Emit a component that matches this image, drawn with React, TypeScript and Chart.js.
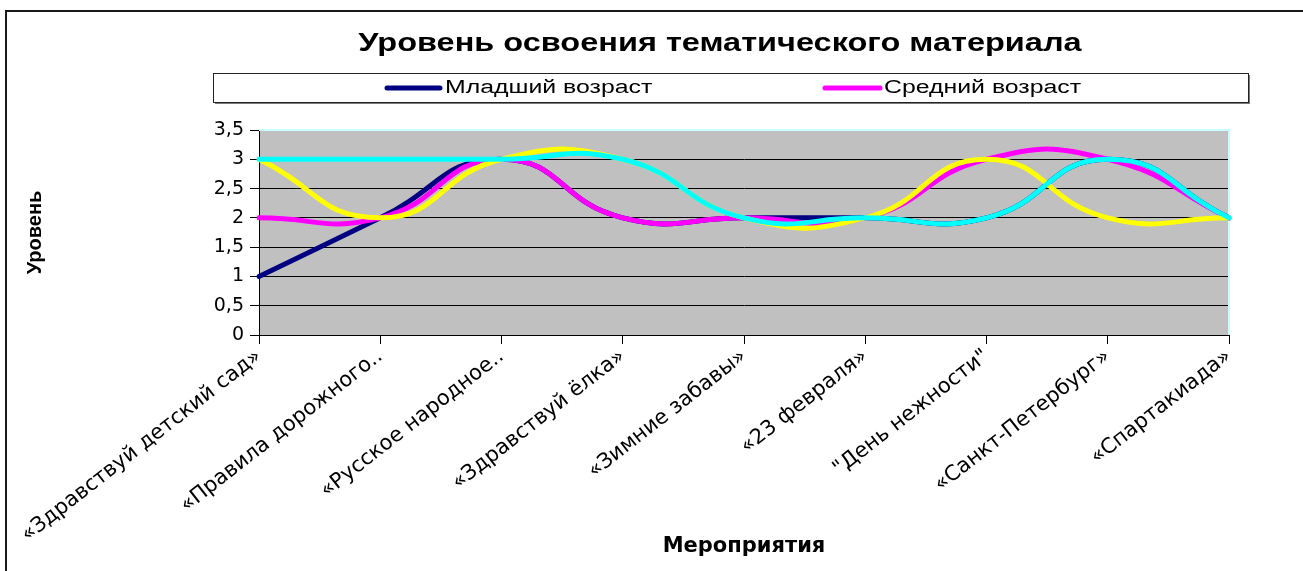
import { useEffect, useRef } from 'react';
import { Chart, registerables } from 'chart.js';

Chart.register(...registerables);

const chartTitle = 'Уровень освоения тематического материала';
const xTitle = 'Мероприятия';
const yTitle = 'Уровень';

const categories = [
  '«Здравствуй детский сад»',
  '«Правила дорожного..',
  '«Русское народное..',
  '«Здравствуй ёлка»',
  '«Зимние забавы»',
  '«23 февраля»',
  '"День нежности"',
  '«Санкт-Петербург»',
  '«Спартакиада»',
];

const seriesNames = ['Младший возраст', 'Средний возраст', 'Ряд 3', 'Ряд 4'];
const juniorValues = [1, 2, 3, 2, 2, 2, 2, 3, 2];
const middleValues = [2, 2, 3, 2, 2, 2, 3, 3, 2];
const series3Values = [3, 2, 3, 3, 2, 2, 3, 2, 2];
const series4Values = [3, 3, 3, 3, 2, 2, 2, 3, 2];
const seriesColors = ['#000080', '#FF00FF', '#FFFF00', '#00FFFF'];
const legendCount = 2;

const yMin = 0;
const yMax = 3.5;
const yStep = 0.5;

function stretchedText(
  ctx: CanvasRenderingContext2D,
  text: string,
  x: number,
  y: number,
  font: string,
  sx: number,
  align: CanvasTextAlign
) {
  ctx.save();
  ctx.font = font;
  ctx.textAlign = align;
  ctx.textBaseline = 'middle';
  ctx.fillStyle = '#000';
  ctx.translate(x, y);
  ctx.scale(sx, 1);
  ctx.fillText(text, 0, 0);
  ctx.restore();
}

const decorPlugin = {
  id: 'decor',
  beforeDraw(chart: any) {
    const { ctx, chartArea: a, width, height } = chart;
    ctx.save();
    ctx.fillStyle = '#ffffff';
    ctx.fillRect(0, 0, width, height);

    // outer frame (top and left edges)
    ctx.strokeStyle = '#1a1a1a';
    ctx.lineWidth = 2;
    ctx.beginPath();
    ctx.moveTo(6, height);
    ctx.lineTo(6, 11);
    ctx.lineTo(width, 11);
    ctx.stroke();

    // title
    stretchedText(ctx, chartTitle, 720, 44, 'bold 25px "Liberation Sans", Arial, sans-serif', 1.3, 'center');

    // legend box with shadow
    const lx = 213, ly = 73, lw = 1035, lh = 29;
    ctx.fillStyle = '#7a7a7a';
    ctx.fillRect(lx + 2, ly + 2, lw, lh);
    ctx.fillStyle = '#ffffff';
    ctx.fillRect(lx, ly, lw, lh);
    ctx.strokeStyle = '#222';
    ctx.lineWidth = 1;
    ctx.strokeRect(lx + 0.5, ly + 0.5, lw, lh);

    const items = [
      { x1: 387, x2: 440, tx: 445 },
      { x1: 825, x2: 880, tx: 884 },
    ];
    const ds = chart.data.datasets;
    for (let i = 0; i < legendCount; i++) {
      const it = items[i];
      ctx.strokeStyle = ds[i].borderColor;
      ctx.lineWidth = 5;
      ctx.lineCap = 'round';
      ctx.beginPath();
      ctx.moveTo(it.x1, 88);
      ctx.lineTo(it.x2, 88);
      ctx.stroke();
      stretchedText(ctx, ds[i].label, it.tx, 88, '18px "Liberation Sans", Arial, sans-serif', 1.38, 'left');
    }

    // plot area background
    ctx.fillStyle = '#C0C0C0';
    ctx.fillRect(a.left, a.top, a.right - a.left, a.bottom - a.top);
    ctx.restore();
  },
  beforeDatasetsDraw(chart: any) {
    const { ctx, chartArea: a } = chart;
    ctx.save();
    ctx.strokeStyle = '#C8FFFF';
    ctx.lineWidth = 2;
    ctx.beginPath();
    ctx.moveTo(a.left, a.top);
    ctx.lineTo(a.right, a.top);
    ctx.lineTo(a.right, a.bottom);
    ctx.stroke();
    ctx.restore();
  },
};

export default function App() {
  const canvasRef = useRef<HTMLCanvasElement | null>(null);

  useEffect(() => {
    const canvas = canvasRef.current;
    if (!canvas) return;
    const values = [juniorValues, middleValues, series3Values, series4Values];
    const chart = new Chart(canvas, {
      type: 'line',
      data: {
        labels: categories,
        datasets: values.map((v, i) => ({
          label: seriesNames[i],
          data: v,
          borderColor: seriesColors[i],
          backgroundColor: seriesColors[i],
          borderWidth: 5,
          pointRadius: 0,
          pointHoverRadius: 0,
          tension: 0.5,
          fill: false,
          order: values.length - i,
          borderCapStyle: 'round',
          borderJoinStyle: 'round',
        })),
      },
      plugins: [decorPlugin],
      options: {
        responsive: false,
        animation: false,
        devicePixelRatio: 1,
        layout: { padding: { top: 130, right: 74, bottom: 0, left: 0 } },
        plugins: {
          legend: { display: false },
          title: { display: false },
          tooltip: { enabled: false },
        },
        scales: {
          x: {
            type: 'category',
            offset: false,
            afterFit: (scale: any) => {
              scale.height = 236;
            },
            grid: {
              drawOnChartArea: false,
              drawTicks: true,
              tickLength: 9,
              color: '#000',
              lineWidth: 1,
            },
            border: { display: true, color: '#000', width: 1 },
            ticks: {
              autoSkip: false,
              minRotation: 38,
              maxRotation: 38,
              color: '#000',
              padding: 0,
              font: { family: '"DejaVu Sans", sans-serif', size: 21 },
            },
            title: {
              display: true,
              text: xTitle,
              color: '#000',
              padding: { top: 0, bottom: 12 },
              font: { family: '"DejaVu Sans", sans-serif', size: 21, weight: 'bold' },
            },
          },
          y: {
            min: yMin,
            max: yMax,
            afterFit: (scale: any) => {
              scale.width = 259;
            },
            grid: {
              color: '#000',
              lineWidth: 1,
              drawTicks: true,
              tickLength: 9,
            },
            border: { display: true, color: '#000', width: 1 },
            ticks: {
              stepSize: yStep,
              color: '#000',
              padding: 6,
              font: { family: '"DejaVu Sans", sans-serif', size: 19 },
              callback: (v: any) => String(v).replace('.', ','),
            },
            title: {
              display: true,
              text: yTitle,
              color: '#000',
              padding: { top: 23, bottom: 0 },
              font: { family: '"Liberation Sans", Arial, sans-serif', size: 20, weight: 'bold' },
            },
          },
        },
      },
    });
    return () => chart.destroy();
  }, []);

  return (
    <div style={{ position: 'absolute', left: 0, top: 0, width: 1303, height: 571, background: '#fff' }}>
      <canvas ref={canvasRef} width={1303} height={571} />
    </div>
  );
}
